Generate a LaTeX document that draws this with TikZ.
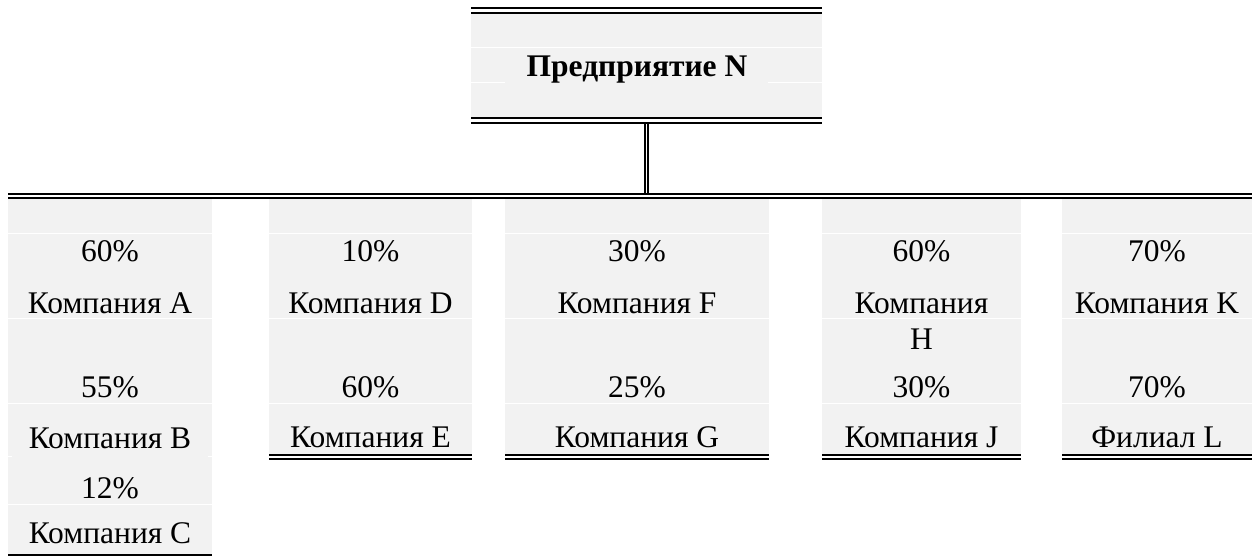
\documentclass[tikz,border=0pt]{standalone}
\usepackage{fontspec}
\setmainfont{Liberation Serif}
\definecolor{cellgray}{HTML}{F2F2F2}
\tikzset{
  sep/.style={white, line width=1pt},
  rule/.style={black, line width=1.8pt},
  lbl/.style={font=\fontsize{31.5}{36}\selectfont, anchor=base, inner sep=0pt},
  head/.style={font=\fontsize{31.5}{36}\selectfont\bfseries, anchor=base, inner sep=0pt},
}
\begin{document}
\begin{tikzpicture}[x=1pt,y=-1pt]
\useasboundingbox (0,0) rectangle (1252,556);
% heading box
\fill[cellgray] (471,13) rectangle (822,118);
\draw[sep] (471,48) -- (822,48);
\draw[sep] (471,83) -- (505,83) (768,83) -- (822,83);
\draw[rule] (471,8.3) -- (822,8.3) (471,12.7) -- (822,12.7);
\draw[rule] (471,118.3) -- (822,118.3) (471,122.7) -- (822,122.7);
\node[head] (N) at (637,77) {Предприятие N};
% bus
\draw[rule] (8,193.7) -- (1252,193.7) (8,197.7) -- (1252,197.7);
\coordinate (Nb) at (646.3,122.7);
\coordinate (bus) at (646.3,193.7);
\draw[rule] ([xshift=-1.7pt]Nb) -- ([xshift=-1.7pt]bus);
\draw[rule] ([xshift=1.7pt]Nb) -- ([xshift=1.7pt]bus);
% columns
\fill[cellgray] (8,199) rectangle (212,554);
\foreach \a/\b in {269/472, 505/769, 822/1021, 1062/1252}{
  \fill[cellgray] (\a,199) rectangle (\b,454);
  \draw[sep] (\a,233) -- (\b,233) (\a,318) -- (\b,318) (\a,403) -- (\b,403);
  \draw[rule] (\a,455) -- (\b,455) (\a,459) -- (\b,459);
}
\draw[sep] (8,233) -- (212,233) (8,318) -- (212,318) (8,403) -- (212,403) (8,504) -- (212,504);
\draw[sep] (8,456) -- (12,456) (208,456) -- (212,456);
\draw[black, line width=1.5pt] (8,555) -- (212,555);
% column 1
\node[lbl] (pA) at (110,261) {60\%};
\node[lbl] (A) at (110,313) {Компания A};
\node[lbl] (pB) at (110,397) {55\%};
\node[lbl] (B) at (110,448) {Компания B};
\node[lbl] (pC) at (110,498) {12\%};
\node[lbl] (C) at (110,543) {Компания C};
% column 2
\node[lbl] (pD) at (370.5,261) {10\%};
\node[lbl] (D) at (370.5,313) {Компания D};
\node[lbl] (pE) at (370.5,397) {60\%};
\node[lbl] (E) at (370.5,447) {Компания E};
% column 3
\node[lbl] (pF) at (637,261) {30\%};
\node[lbl] (F) at (637,313) {Компания F};
\node[lbl] (pG) at (637,397) {25\%};
\node[lbl] (G) at (637,447) {Компания G};
% column 4
\node[lbl] (pH) at (921.5,261) {60\%};
\node[lbl] (H1) at (921.5,313) {Компания};
\node[lbl] (H2) at (921.5,349) {H};
\node[lbl] (pJ) at (921.5,397) {30\%};
\node[lbl] (J) at (921.5,447) {Компания J};
% column 5
\node[lbl] (pK) at (1157,261) {70\%};
\node[lbl] (K) at (1157,313) {Компания K};
\node[lbl] (pL) at (1157,397) {70\%};
\node[lbl] (L) at (1157,447) {Филиал L};
\end{tikzpicture}
\end{document}
